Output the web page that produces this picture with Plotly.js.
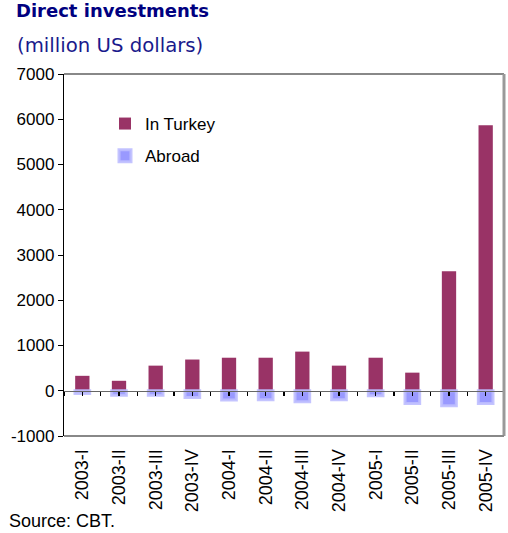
<!DOCTYPE html>
<html>
<head>
<meta charset="utf-8">
<script src="https://cdn.plot.ly/plotly-3.0.1.min.js"></script>
<style>
  html, body { margin: 0; padding: 0; background: #fff; }
  #chart { width: 508px; height: 533px; }
</style>
</head>
<body>
<div id="chart"></div>
<script>
// Quarterly direct investment flows, million US dollars
const quarters = ['2003-I', '2003-II', '2003-III', '2003-IV',
                  '2004-I', '2004-II', '2004-III', '2004-IV',
                  '2005-I', '2005-II', '2005-III', '2005-IV'];
const inTurkey = [330, 220, 555, 690, 730, 730, 865, 555, 730, 400, 2640, 5870];
const abroad   = [-60, -100, -100, -150, -205, -200, -245, -200, -110, -280, -330, -280];
const yTicks   = [-1000, 0, 1000, 2000, 3000, 4000, 5000, 6000, 7000];

const sans = "'Liberation Sans', Arial, Helvetica, sans-serif";
const tickFont = { family: sans, size: 17, color: '#000' };

const traces = [
  {
    type: 'bar', name: 'In Turkey', x: quarters, y: inTurkey,
    width: 0.39, legendgroup: 'inTurkey',
    marker: { color: '#993366', line: { width: 0 } },
    hoverinfo: 'x+y'
  },
  {
    type: 'bar', name: 'Abroad', x: quarters, y: abroad,
    width: 0.4, legendgroup: 'abroad',
    marker: { color: '#9999FF', line: { color: 'rgba(190,190,255,0.9)', width: 3 } },
    hoverinfo: 'x+y'
  },
  // invisible carrier for the tick axis along the zero line
  {
    type: 'scatter', x: [-0.5, 11.5], y: [0, 0], xaxis: 'x2', yaxis: 'y',
    mode: 'lines', line: { width: 0 }, showlegend: false, hoverinfo: 'skip'
  }
];

const layout = {
  width: 508, height: 533,
  margin: { l: 64, r: 4, t: 74, b: 97 },
  paper_bgcolor: '#fff', plot_bgcolor: '#fff',
  barmode: 'overlay',
  showlegend: true,
  title: {
    text: '<b>Direct investments</b>',
    font: { family: "'DejaVu Sans', sans-serif", size: 18, color: '#000080' },
    x: 16 / 508, xanchor: 'left', xref: 'container',
    y: 1 - 11 / 533, yanchor: 'middle', yref: 'container'
  },
  legend: {
    x: (105 - 64) / 440, xanchor: 'left',
    y: 1 - (106 - 74) / 362, yanchor: 'top',
    traceorder: 'grouped', tracegroupgap: 7,
    itemclick: false,
    font: tickFont, bgcolor: 'rgba(0,0,0,0)'
  },
  xaxis: {
    type: 'category',
    range: [-0.5, 11.5],
    tickangle: -90,
    ticks: 'outside', ticklen: 5, tickcolor: 'rgba(0,0,0,0)',
    tickfont: { family: sans, size: 18, color: '#000' },
    showline: false, showgrid: false, zeroline: false, fixedrange: true
  },
  xaxis2: {
    overlaying: 'x', anchor: 'free', position: 1000 / 8000, side: 'bottom',
    range: [-0.5, 11.5], tick0: -0.5, dtick: 0.5,
    ticks: 'outside', ticklen: 4, tickwidth: 1.5, tickcolor: '#000',
    showticklabels: false, showgrid: false, zeroline: false,
    showline: true, linecolor: '#666', linewidth: 1.5,
    layer: 'above traces', fixedrange: true
  },
  yaxis: {
    range: [-1000, 7000],
    tickvals: yTicks, ticktext: yTicks.map(String),
    ticks: 'outside', ticklen: 5, tickcolor: '#000', tickwidth: 1,
    tickfont: tickFont,
    showline: true, linecolor: '#000', linewidth: 1.2,
    showgrid: false, zeroline: false,
    layer: 'above traces', fixedrange: true
  },
  shapes: [
    // grey frame around the plot area
    { type: 'line', xref: 'paper', yref: 'paper', x0: 0, x1: 1, y0: 1, y1: 1,
      line: { color: '#888', width: 2 } },
    { type: 'line', xref: 'paper', yref: 'paper', x0: 1, x1: 1, y0: 0, y1: 1,
      line: { color: '#999', width: 3 } },
    { type: 'line', xref: 'paper', yref: 'paper', x0: 0, x1: 1, y0: 0, y1: 0,
      line: { color: '#888', width: 2 } }
  ],
  annotations: [
    {
      text: '(million US dollars)', showarrow: false,
      xref: 'paper', yref: 'paper',
      x: (15 - 64) / 440, xanchor: 'left',
      y: 1 + (74 - 46) / 362, yanchor: 'middle',
      font: { family: "'DejaVu Sans', sans-serif", size: 19.7, color: '#1a1a8c' }
    },
    {
      text: 'Source: CBT.', showarrow: false,
      xref: 'paper', yref: 'paper',
      x: (7 - 64) / 440, xanchor: 'left',
      y: -(521 - 436) / 362, yanchor: 'middle',
      font: { family: sans, size: 18, color: '#000' }
    }
  ]
};

Plotly.newPlot('chart', traces, layout, { displayModeBar: false, staticPlot: true });
</script>
</body>
</html>
